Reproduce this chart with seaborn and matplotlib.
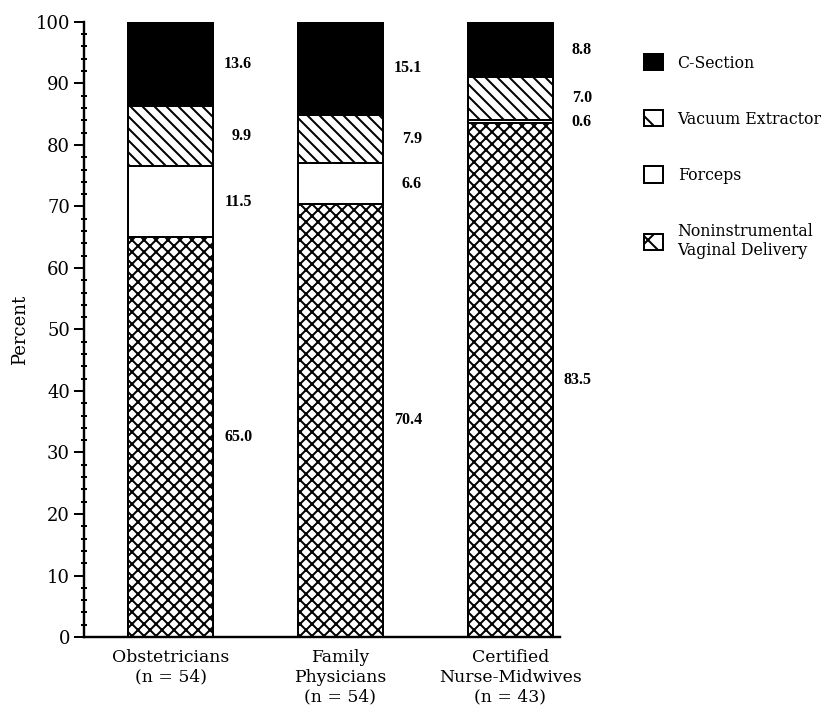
import numpy as np
import pandas as pd
import seaborn as sns
import matplotlib.pyplot as plt
from matplotlib.patches import Patch
from matplotlib.ticker import MultipleLocator

sns.set_style("ticks")
plt.rcParams["font.family"] = ["DejaVu Serif"]
plt.rcParams["hatch.linewidth"] = 1.0
plt.rcParams["hatch.color"] = "black"
for key in ["text.color", "axes.labelcolor", "xtick.color", "ytick.color",
            "axes.edgecolor"]:
    plt.rcParams[key] = "black"


# DATOS
groups = ["Obstetricians\n(n = 54)",
          "Family\nPhysicians\n(n = 54)",
          "Certified\nNurse-Midwives\n(n = 43)"]
noninstrumental = [65.0, 70.4, 83.5]
forceps = [11.5, 6.6, 0.6]
vacuum = [9.9, 7.9, 7.0]
csection = [13.6, 15.1, 8.8]

layer_names = ["C-Section", "Vacuum Extractor", "Forceps",
               "Noninstrumental\nVaginal Delivery"]


def stacked_tops(layers):

    tops = np.cumsum(np.array(layers), axis=0)
    return tops


# order bottom -> top
layers = [noninstrumental, forceps, vacuum, csection]
tops = stacked_tops(layers)
bottoms = tops - np.array(layers)

styles = [
    dict(color="white", hatch="xxxx"),
    dict(color="white", hatch=""),
    dict(color="white", hatch="\\\\\\\\"),
    dict(color="black", hatch=""),
]
legend_hatch = ["xx", "", "\\\\", ""]

fig = plt.figure(figsize=(823 / 144, 722 / 144), dpi=144)
ax = fig.add_axes([0.102, 0.1177, 0.578, 0.852])

# draw tallest cumulative bar first, lower layers cover it
for k in range(len(layers) - 1, -1, -1):
    df = pd.DataFrame({"group": groups, "value": tops[k]})
    sns.barplot(data=df, x="group", y="value", ax=ax, width=0.5,
                saturation=1, edgecolor="black", linewidth=1.0,
                errorbar=None, **styles[k])

# value labels
for k in range(len(layers)):
    for i in range(len(groups)):
        val = layers[k][i]
        ax.text(i + 0.48, bottoms[k][i] + val / 2, f"{val:.1f}",
                ha="right", va="center", fontsize=8, fontweight="bold",
                family="Liberation Serif")

ax.set_xlim(-0.51, 2.29)
ax.set_ylim(0, 100)
ax.yaxis.set_major_locator(MultipleLocator(10))
ax.yaxis.set_minor_locator(MultipleLocator(2))
ax.tick_params(axis="y", which="major", direction="out", length=5,
               width=1.0, labelsize=9, pad=2)
ax.tick_params(axis="y", which="minor", direction="inout", length=3,
               width=1.0)
ax.tick_params(axis="x", length=0, labelsize=8.6, pad=6)
ax.set_xlabel("")
ax.set_ylabel("Percent", fontsize=9)
ax.yaxis.set_label_coords(-0.115, 0.5)

sns.despine(ax=ax)
for side in ["left", "bottom"]:
    ax.spines[side].set_linewidth(1.2)

handles = [Patch(facecolor=styles[k]["color"], edgecolor="black",
                 hatch=legend_hatch[k], linewidth=1.0)
           for k in [3, 2, 1, 0]]
fig.legend(handles, layer_names, loc="upper left",
           bbox_to_anchor=(0.783, 0.925), frameon=False, fontsize=7.9,
           handlelength=1.2, handleheight=1.2, handletextpad=0.9,
           labelspacing=2.45, borderpad=0, borderaxespad=0)

fig.savefig("out.png", dpi=144)
